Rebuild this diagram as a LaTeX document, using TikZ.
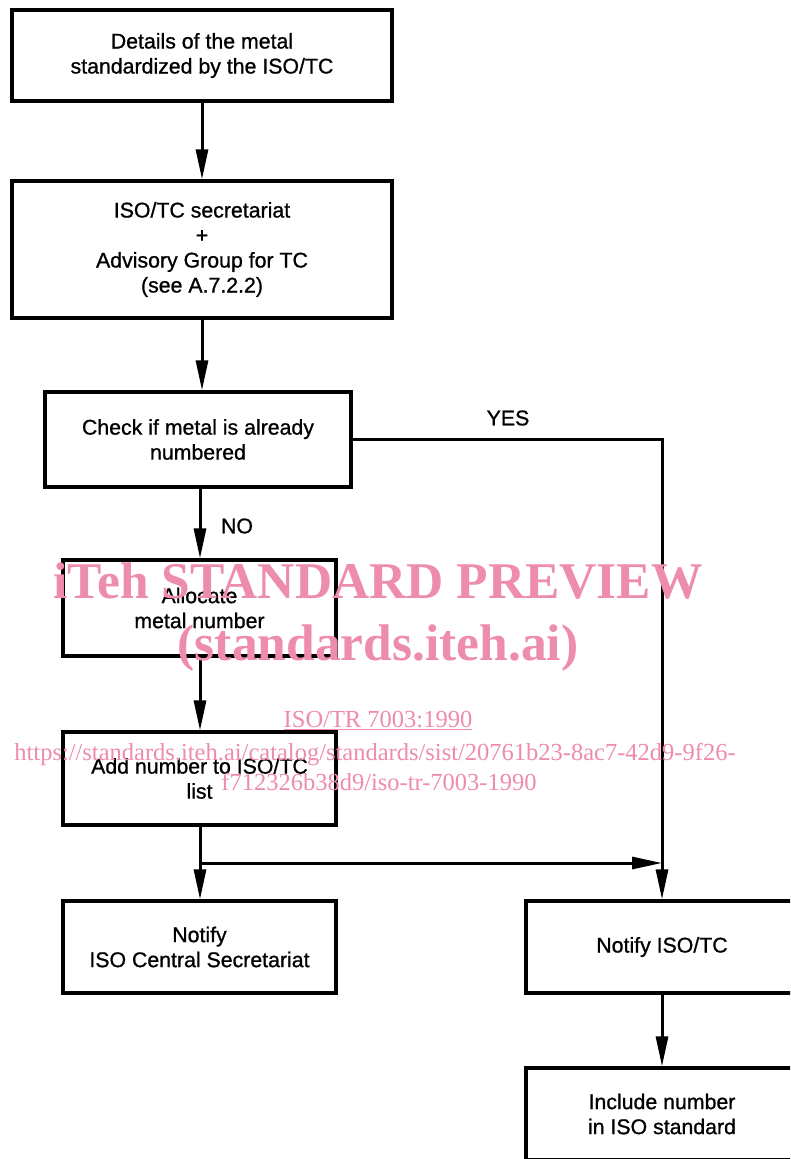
\documentclass[tikz,border=0pt]{standalone}
\usepackage{fontspec}
\setmainfont{Liberation Sans}
\newfontfamily\wmfont{Liberation Serif}
\newfontfamily\boxfont[FakeBold=0.9]{Liberation Sans}
\usetikzlibrary{arrows.meta}
\definecolor{wmpink}{RGB}{238,140,172}
\begin{document}
\begin{tikzpicture}[x=1pt,y=-1pt,
  box/.style={draw, line width=3.2pt, align=center, inner sep=0pt,
    font=\boxfont\fontsize{21.3}{25}\selectfont},
  conn/.style={line width=3pt, -{Triangle[length=30pt,width=12pt]}},
  lbl/.style={font=\boxfont\fontsize{21.3}{25}\selectfont},
  wmbig/.style={text=wmpink, font=\wmfont\bfseries\fontsize{51.5}{56}\selectfont},
  wmsmall/.style={text=wmpink, font=\wmfont\fontsize{24.5}{28}\selectfont}]
\useasboundingbox (0,0) rectangle (790,1159);
\clip (0,0) rectangle (790,1159);
\fill[white] (0,0) rectangle (790,1159);

\node[box, minimum width=380pt, minimum height=91pt] (b1) at (202,55.5)
  {Details of the metal\\standardized by the ISO/TC};
\node[box, minimum width=380pt, minimum height=137pt] (b2) at (202,249.5)
  {ISO/TC secretariat\\+\\Advisory Group for TC\\(see A.7.2.2)};
\node[box, minimum width=306pt, minimum height=95pt] (b3) at (198,439.5)
  {Check if metal is already\\numbered};
\node[box, minimum width=273pt, minimum height=96pt] (b4) at (199.5,608)
  {Allocate\\metal number};
\node[box, minimum width=273pt, minimum height=93pt] (b5) at (199.5,778.5)
  {Add number to ISO/TC\\list};
\node[box, minimum width=273pt, minimum height=92pt] (b6) at (199.5,947)
  {Notify\\ISO Central Secretariat};
\node[box, minimum width=272pt, minimum height=92pt] (b7) at (662,947)
  {Notify ISO/TC};
\node[box, minimum width=272pt, minimum height=92pt] (b8) at (662,1114)
  {Include number\\in ISO standard};

\node[lbl] (yes) at (508,418) {YES};
\node[lbl] (no) at (237,526) {NO};

\coordinate (br) at (200,863);

\draw[conn] (b1.south) -- (b2.north);
\draw[conn] (b2.south) -- (b2.south |- b3.north);
\draw[conn] (b3.south -| br) -- (b4.north -| br);
\draw[conn] (b4.south -| br) -- (b5.north -| br);
\draw[conn] (b5.south -| br) -- (b6.north -| br);
\draw[conn] (br) -- (br -| b7.north);
\draw[conn] (b3.east) -| (b7.north);
\draw[conn] (b7.south) -- (b8.north);

\node[wmbig, anchor=base] (wm1) at (378,598) {iTeh STANDARD PREVIEW};
\node[wmbig, anchor=base] (wm2) at (378,660) {(standards.iteh.ai)};
\node[wmsmall, anchor=base] (wm3) at (378,727) {\underline{ISO/TR 7003:1990}};
\node[wmsmall, anchor=base] (wm4) at (375,760)
  {https://standards.iteh.ai/catalog/standards/sist/20761b23-8ac7-42d9-9f26-};
\node[wmsmall, anchor=base] (wm5) at (379,790) {f712326b38d9/iso-tr-7003-1990};
\end{tikzpicture}
\end{document}
